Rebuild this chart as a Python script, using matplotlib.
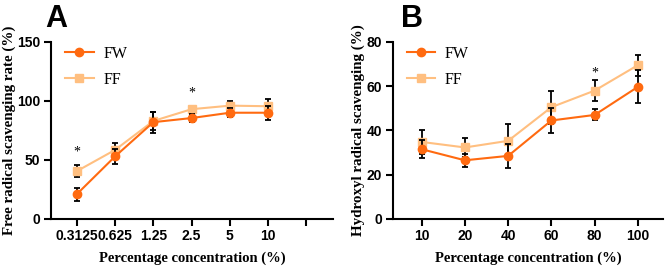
import matplotlib
matplotlib.use("Agg")
import matplotlib.pyplot as plt
from matplotlib.lines import Line2D
import numpy as np

# Panel A data
a_labels = ["0.3125", "0.625", "1.25", "2.5", "5", "10"]
a_fw = [21, 53, 82, 85.5, 90, 90]
a_fw_err = [5.5, 6.5, 9, 3, 4, 6]
a_ff = [40.5, 58.5, 83, 93, 96, 95.5]
a_ff_err = [5, 6, 8, 3, 4, 6]
a_star_idx = [0, 3]
a_star_y = [57, 107]

# Panel B data
b_labels = ["10", "20", "40", "60", "80", "100"]
b_fw = [31.5, 26.5, 28.5, 44.5, 47, 59.7]
b_fw_err = [4, 3, 5.5, 5.5, 2.5, 7.5]
b_ff = [34.8, 32.3, 35.3, 50.5, 58, 69.5]
b_ff_err = [5.5, 4.5, 7.5, 7.5, 4.7, 4.8]
b_star_idx = [4]
b_star_y = [66]

FW_C = "#FF6A10"
FF_C = "#FFBF80"

fig = plt.figure(figsize=(6.69, 2.67), dpi=100)
axA = fig.add_axes([0.076, 0.18, 0.422, 0.663])
axB = fig.add_axes([0.587, 0.18, 0.404, 0.663])

serif = "Liberation Serif"
sans = "Liberation Sans"

def draw(ax, labels, fw, fwe, ff, ffe, stars, stary, ylim, yticks, ylabel, xlim, extra_tick):
    x = np.arange(len(labels))
    ax.errorbar(x, ff, yerr=ffe, color=FF_C, marker="s", markersize=6, lw=1.5,
                ecolor="black", elinewidth=1.3, capsize=2.2, capthick=1.3, zorder=3)
    ax.errorbar(x, fw, yerr=fwe, color=FW_C, marker="o", markersize=6, lw=1.5,
                ecolor="black", elinewidth=1.3, capsize=2.2, capthick=1.3, zorder=4)
    for i, yv in zip(stars, stary):
        ax.text(x[i], yv, "*", ha="center", va="center", fontsize=10, family=serif)
    ax.set_ylim(*ylim)
    ax.set_yticks(yticks)
    ax.set_xlim(*xlim)
    ticks = list(x)
    tl = list(labels)
    if extra_tick:
        ticks.append(len(labels))
        tl.append("")
    ax.set_xticks(ticks)
    ax.set_xticklabels(tl)
    for s in ["top", "right"]:
        ax.spines[s].set_visible(False)
    for s in ["left", "bottom"]:
        ax.spines[s].set_linewidth(1.5)
    ax.tick_params(width=1.5, length=5, labelsize=10, pad=2.5)
    for t in ax.get_xticklabels() + ax.get_yticklabels():
        t.set_fontweight("bold")
        t.set_family(sans)
    ax.set_ylabel(ylabel, family=serif, fontweight="bold", fontsize=10.8, labelpad=1)
    ax.set_xlabel("Percentage concentration (%)", family=serif, fontweight="bold", fontsize=10.5, labelpad=6)
    handles = [Line2D([], [], color=FW_C, marker="o", markersize=6, lw=1.5),
               Line2D([], [], color=FF_C, marker="s", markersize=6, lw=1.5)]
    ax.legend(handles, ["FW", "FF"], loc="upper left", frameon=False, prop={"family": serif, "size": 11.5},
              handlelength=1.8, handletextpad=0.6, borderaxespad=0.3, labelspacing=0.6,
              bbox_to_anchor=(0.01, 1.04))

draw(axA, a_labels, a_fw, a_fw_err, a_ff, a_ff_err, a_star_idx, a_star_y,
     (0, 150), [0, 50, 100, 150], "Free radical scavenging rate (%)", (-0.68, 6.7), True)
draw(axB, b_labels, b_fw, b_fw_err, b_ff, b_ff_err, b_star_idx, b_star_y,
     (0, 80), [0, 20, 40, 60, 80], "Hydroxyl radical scavenging (%)", (-0.67, 5.58), False)

fig.text(0.068, 0.985, "A", fontsize=22, fontweight="bold", family=sans, va="top")
fig.text(0.600, 0.985, "B", fontsize=22, fontweight="bold", family=sans, va="top")

fig.savefig("out.png", dpi=100)
